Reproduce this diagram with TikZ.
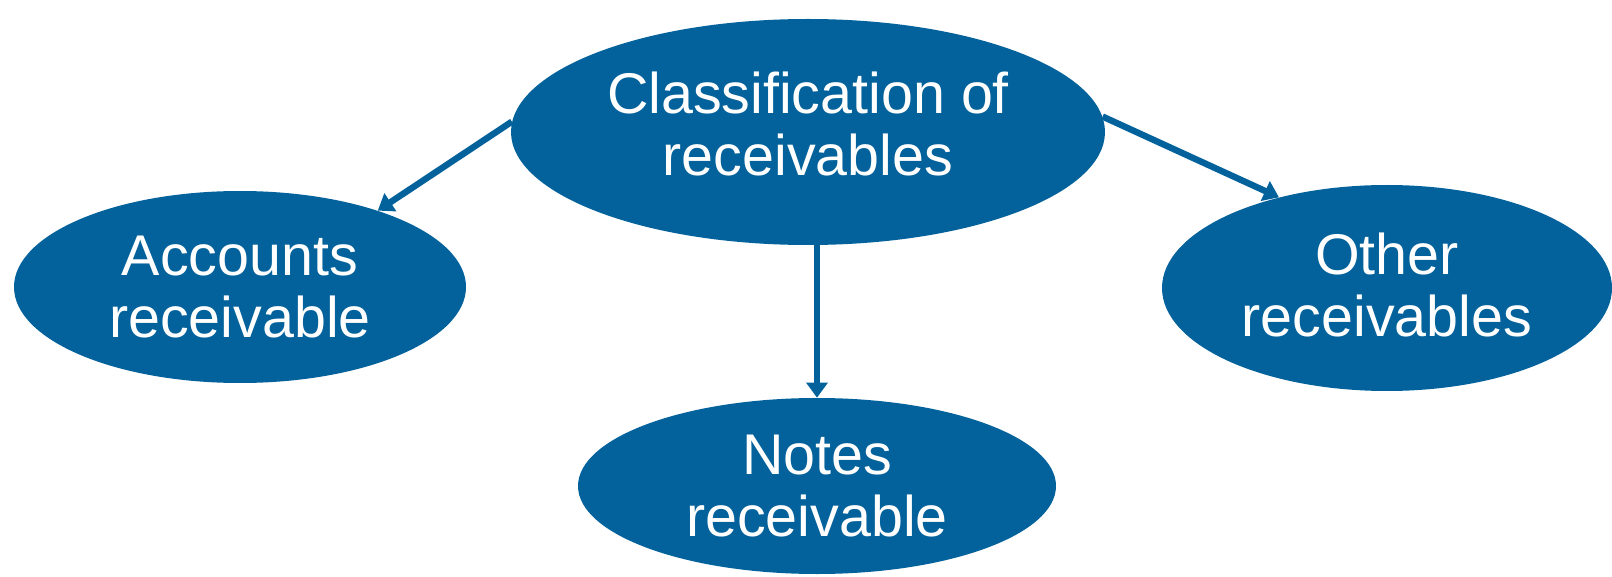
\documentclass[tikz,border=0pt]{standalone}
\usepackage{fontspec}
\setmainfont{Liberation Sans}
\usetikzlibrary{shapes.geometric,calc}
\definecolor{rcvblue}{HTML}{03629B}
\tikzset{
  bubble/.style={ellipse, fill=rcvblue, draw=none, inner sep=0pt},
  caption/.style={text=white, align=center, inner sep=0pt,
    font=\fontsize{28.7pt}{31pt}\selectfont},
  shaft/.style={draw=rcvblue, line width=3.2pt, shorten >=5pt}
}
% solid triangular head at #2 for a connector coming from #1
\newcommand{\rcvhead}[2]{%
  \fill[rcvblue] (#2) -- ($(#2)!7.5pt!(#1)!5.5pt!90:(#2)$)
    -- ($(#2)!7.5pt!(#1)!5.5pt!-90:(#2)$) -- cycle;}
\begin{document}
\begin{tikzpicture}[x=0.5pt,y=0.5pt]
\useasboundingbox (0,0) rectangle (1612,-577);
% the four ellipses
\node[bubble, minimum width=297pt, minimum height=113pt] (top) at (808,-132) {};
\node[bubble, minimum width=226pt, minimum height=96pt] (acc) at (240,-287) {};
\node[bubble, minimum width=239pt, minimum height=88pt] (notes) at (817,-486) {};
\node[bubble, minimum width=225pt, minimum height=103pt] (other) at (1387,-288) {};
% their captions
\node[caption] (toptext) at ([yshift=4pt]top.center) {Classification of\\receivables};
\node[caption] (acctext) at (acc.center) {Accounts\\receivable};
\node[caption] (notestext) at (notes.center) {Notes\\receivable};
\node[caption] (othertext) at ([yshift=1.5pt]other.center) {Other\\receivables};
% connectors
\coordinate (dropstart) at (top.south -| notes.north);
\draw[shaft] (top.178) -- (acc.29);
\rcvhead{top.178}{acc.29}
\draw[shaft] (top.3) -- (other.140);
\rcvhead{top.3}{other.140}
\draw[shaft] (dropstart) -- (notes.north);
\rcvhead{dropstart}{notes.north}
\end{tikzpicture}
\end{document}
